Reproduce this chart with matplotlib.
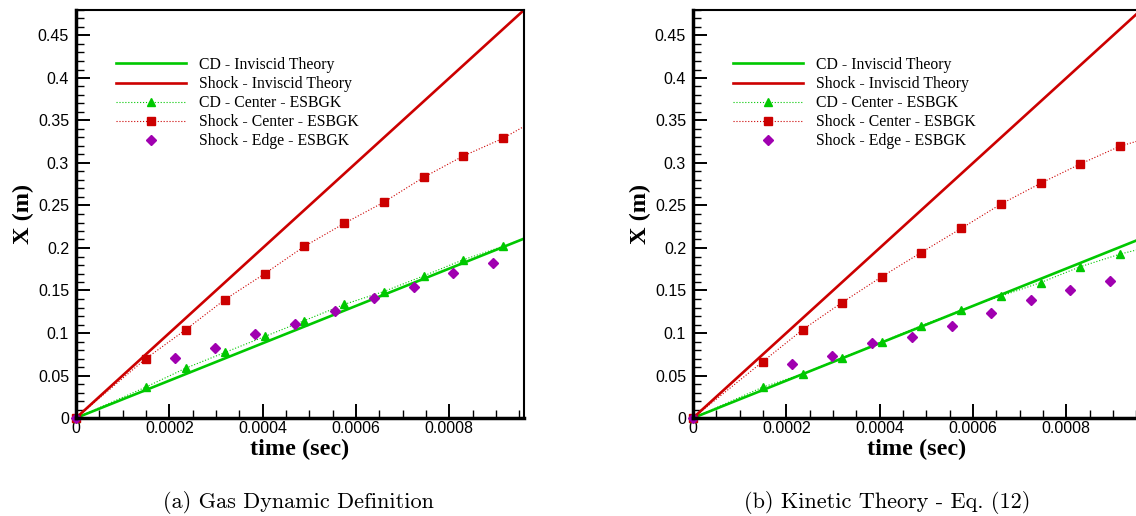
import matplotlib
matplotlib.use('Agg')
import matplotlib.pyplot as plt
from matplotlib.ticker import MultipleLocator, FuncFormatter

# times of the ESBGK samples (sec)
t_sim = [0, 0.000149, 0.000235, 0.000319, 0.000405, 0.000489, 0.000575, 0.000659, 0.000745, 0.000829, 0.000915]
t_line = t_sim + [0.00096]
t_edge = [0, 0.000213, 0.000298, 0.000384, 0.000469, 0.000554, 0.000638, 0.000724, 0.000808, 0.000893]

# inviscid theory lines
t_theory = [0, 0.00096]
cd_theory = [0, 0.211]
shock_theory = [0, 0.48]

# (a) gas dynamic definition
shock_center_a = [0, 0.0696, 0.1039, 0.1393, 0.170, 0.2018, 0.229, 0.2537, 0.2832, 0.308, 0.329, 0.343]
cd_center_a = [0, 0.0362, 0.0586, 0.0771, 0.096, 0.1145, 0.1337, 0.1487, 0.1672, 0.186, 0.202, 0.211]
shock_edge_a = [0, 0.0704, 0.0826, 0.0983, 0.1109, 0.1263, 0.1416, 0.1542, 0.1703, 0.1825]

# (b) kinetic theory
shock_center_b = [0, 0.0661, 0.1039, 0.1357, 0.1664, 0.1947, 0.2231, 0.2514, 0.2762, 0.2986, 0.3198, 0.327]
cd_center_b = [0, 0.0362, 0.0519, 0.0708, 0.0897, 0.1086, 0.127, 0.1432, 0.1593, 0.1778, 0.1928, 0.199]
shock_edge_b = [0, 0.0637, 0.0732, 0.0885, 0.0952, 0.1078, 0.1235, 0.1389, 0.1511, 0.1609]

captions = ['(a) Gas Dynamic Definition', '(b) Kinetic Theory - Eq. (12)']

green = '#00c800'
red = '#cc0000'
magenta = '#a000b0'

fig = plt.figure(figsize=(11.36, 5.16), dpi=100)
ax_a = fig.add_axes([76 / 1136, 1 - 418 / 516, 448 / 1136, 408 / 516])
ax_b = fig.add_axes([693 / 1136, 1 - 418 / 516, 448 / 1136, 408 / 516])


def draw(ax, shock_c, cd_c, shock_e):
    n = len(t_sim)
    ax.plot(t_theory, cd_theory, color=green, lw=1.9, label='CD - Inviscid Theory')
    ax.plot(t_theory, shock_theory, color=red, lw=1.9, label='Shock - Inviscid Theory')
    ax.plot(t_line, cd_c, color=green, lw=0.8, ls=':', marker='^', ms=6,
            markevery=list(range(n)), label='CD - Center - ESBGK', clip_on=False)
    ax.plot(t_line, shock_c, color=red, lw=0.8, ls=':', marker='s', ms=5.8,
            markevery=list(range(n)), label='Shock - Center - ESBGK', clip_on=False)
    ax.plot(t_edge, shock_e, color=magenta, ls='none', marker='D', ms=5.2,
            label='Shock - Edge - ESBGK', clip_on=False)

    ax.set_xlim(0, 0.00096)
    ax.set_ylim(0, 0.48)
    ax.xaxis.set_major_locator(MultipleLocator(0.0002))
    ax.xaxis.set_minor_locator(MultipleLocator(0.00005))
    ax.yaxis.set_major_locator(MultipleLocator(0.05))
    ax.yaxis.set_minor_locator(MultipleLocator(0.01))
    fmt = FuncFormatter(lambda v, p: '%g' % round(v, 6))
    ax.xaxis.set_major_formatter(fmt)
    ax.yaxis.set_major_formatter(fmt)
    ax.tick_params(which='both', direction='in', top=False, right=False)
    ax.tick_params(which='major', length=10, width=1.4, labelsize=11.5)
    ax.tick_params(which='minor', length=6, width=1.0)
    ax.tick_params(axis='x', pad=2)
    ax.tick_params(axis='y', pad=5)
    for lab in ax.get_xticklabels() + ax.get_yticklabels():
        lab.set_family('Liberation Sans')
    ax.spines['left'].set_linewidth(2.5)
    ax.spines['bottom'].set_linewidth(2.5)
    ax.spines['top'].set_linewidth(1.5)
    ax.spines['right'].set_linewidth(1.5)

    ax.set_xlabel('time (sec)', family='Liberation Serif', weight='bold', size=17.5, labelpad=2)
    ax.set_ylabel('X (m)', family='Liberation Serif', weight='bold', size=17.5, labelpad=3)

    ax.legend(loc='upper left', bbox_to_anchor=(0.089, 0.885), frameon=False,
              prop={'family': 'Liberation Serif', 'size': 11.3}, handlelength=4.5,
              handletextpad=0.8, labelspacing=0.2, borderpad=0, borderaxespad=0,
              numpoints=1)


draw(ax_a, shock_center_a, cd_center_a, shock_edge_a)
draw(ax_b, shock_center_b, cd_center_b, shock_edge_b)

fig.text(298 / 1136, 1 - 502 / 516, captions[0], family='cmr10', size=16, ha='center', va='center')
fig.text(887 / 1136, 1 - 502 / 516, captions[1], family='cmr10', size=16, ha='center', va='center')

fig.savefig('out.png', dpi=100)
